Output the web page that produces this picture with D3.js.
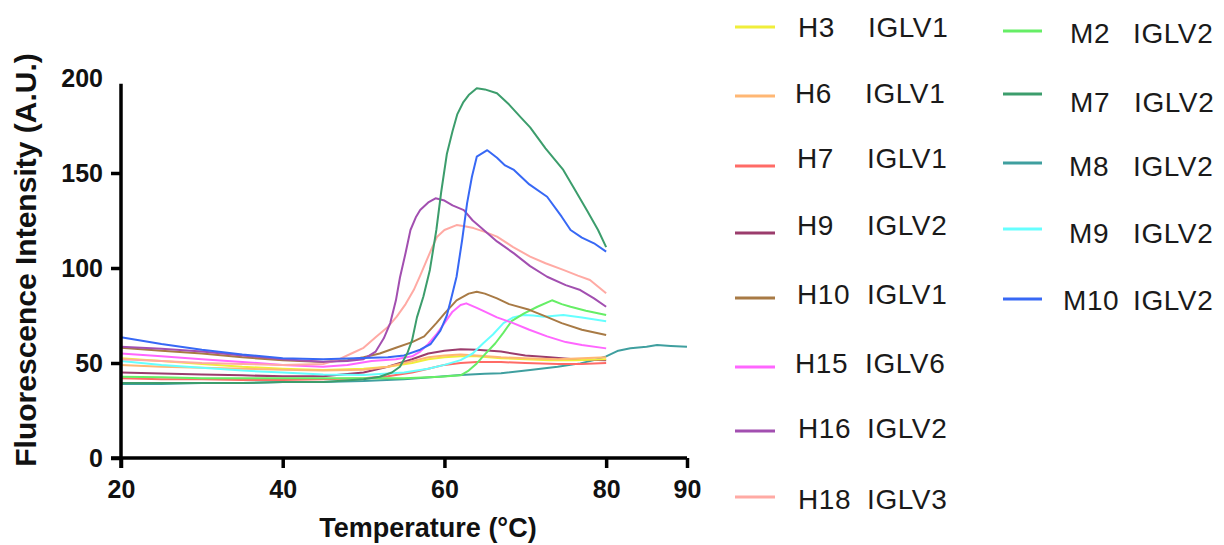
<!DOCTYPE html>
<html>
<head>
<meta charset="utf-8">
<script src="https://cdn.jsdelivr.net/npm/d3@7"></script>
<style>
  html, body { margin: 0; padding: 0; background: #fff; }
  svg { display: block; font-family: "Liberation Sans", Arial, Helvetica, sans-serif; }
</style>
</head>
<body>
<svg id="chart" width="1224" height="545"></svg>
<script>
// ---- data (temperature °C, fluorescence A.U.) ----
const xTicks = [20, 40, 60, 80, 90];
const yTicks = [0, 50, 100, 150, 200];

const seriesNames = ["H3", "H6", "H7", "H9", "H10", "H15", "H16", "H18", "M2", "M7", "M8", "M9", "M10"];
const seriesGenes = ["IGLV1", "IGLV1", "IGLV1", "IGLV2", "IGLV1", "IGLV6", "IGLV2", "IGLV3", "IGLV2", "IGLV2", "IGLV2", "IGLV2", "IGLV2"];
const seriesColors = ["#f0ee3a", "#ffb774", "#ff6b66", "#9b3c6c", "#a87a45", "#ff66ff", "#a24fb0", "#ffaaa4", "#66ee66", "#3c9d6c", "#3f9f9f", "#66ffff", "#3768f5"];

const h3 = [[20,52.5],[25,51],[30,49.5],[35,48],[40,47],[45,46.3],[50,47],[53,48],[56,50],[58,52],[60,53],[62,53.5],[64,53.5],[67,52.5],[70,52],[73,51.5],[76,51.5],[80,52]];
const h6 = [[20,49],[25,48],[30,47.5],[35,47],[40,46.5],[45,46],[50,46.5],[53,48],[56,51],[58,53],[60,54],[62,54.5],[64,54],[67,53],[70,52.5],[74,52],[77,52.5],[80,53]];
const h7 = [[20,42],[25,41.5],[30,41.5],[35,41],[40,41],[45,41.5],[50,42],[53,43],[56,45],[58,47],[60,49],[62,50],[64,50.5],[67,50.5],[70,50],[74,49.5],[77,49.5],[80,50]];
const h9 = [[20,45],[25,44.5],[30,44],[35,43.5],[40,43],[45,43],[50,45],[53,48],[56,52],[58,55],[60,56.5],[62,57.2],[64,57],[67,56],[70,54],[73,53],[76,52],[80,51.5]];
const h10 = [[20,58],[25,56.5],[30,55],[35,53],[40,51.5],[45,50.5],[48,51.5],[50,53],[52,55],[54,58],[56,61],[57.5,64],[59,71],[60,76],[61.5,83],[63,86.5],[64,87.5],[65,86.5],[66.5,84],[68,81],[70.5,78],[72.5,74.5],[74.5,71],[77,67.5],[80,64.7]];
const h15 = [[20,55],[25,53.5],[30,52],[35,50.5],[40,49],[45,48],[48,49],[51,51],[54,52],[56,53.5],[57,56],[58,60],[59,65],[60,71],[61,77],[62,80.5],[62.7,81.4],[64,79],[65,77],[66.5,74],[68.5,71],[70.5,67.5],[72.7,64],[75,61],[77,59.5],[80,57.7]];
const h16 = [[20,58.6],[25,57.5],[30,56],[35,54],[40,52],[45,50.7],[48,51],[50,52],[51.5,56],[52.5,63],[53.3,71],[54,83],[54.5,95],[55.2,108],[55.8,120],[56.5,127],[57,130.5],[58,134.5],[58.9,136.7],[60,135.5],[61,133],[62.4,130.5],[63.5,125],[64.4,121.7],[66.5,114],[68.6,107.7],[70.6,101],[72.7,95.4],[75,91],[76.8,88.4],[78.5,84],[80,79.6]];
const h18 = [[20,52],[25,51],[30,50],[35,49.5],[40,49],[45,49.5],[47,52],[48.5,55],[50,58],[51.6,64],[53,69],[54.1,74.4],[55.2,81],[56.2,88.4],[57,96],[57.8,104],[58.5,111],[59.1,116.5],[60,120],[61.5,122.6],[62.5,122],[63.6,121],[65,119],[66.5,116.5],[68.5,111],[70.6,106],[72.5,102.5],[74.7,99],[76.5,96],[78,93.7],[80,86.7]];
const m2 = [[20,42.8],[25,42.5],[30,42],[35,42],[40,42],[45,42],[50,42],[55,42],[59.5,42.8],[62,43.5],[63,46],[64,49.8],[65,54.5],[66.3,60.4],[67.3,66],[68.3,72],[69.8,76],[71.5,79.6],[73.3,83],[74.5,81],[75.6,79.6],[77.5,77.5],[80,75.3]];
const m7 = [[20,39.5],[25,39.5],[30,39.5],[35,39.5],[40,40],[45,40],[50,41.5],[52,42.8],[53.5,45],[54.5,48],[55.4,55],[56,62],[56.6,74],[57.4,85],[58.2,99],[59,120],[59.6,140],[60.3,160],[61,172],[61.6,181],[62.3,187],[63,191],[64,194.6],[65,194],[66.5,192],[68,186],[69.5,179],[70.6,174],[72.5,163],[74.7,151.6],[76.3,140],[77.6,130.5],[79,120],[80,111]];
const m8 = [[20,39],[25,39],[30,39.5],[35,39.5],[40,40],[45,40],[50,40.5],[55,41.5],[60,43],[62,43.7],[65,44.3],[67,44.6],[70.6,46.3],[74,48],[76.8,49.8],[78.5,51.5],[80,53.5],[81.5,56.5],[83,57.8],[85,58.6],[86.3,59.5],[88,59],[90,58.5]];
const m9 = [[20,51],[25,49],[30,47.5],[35,46],[40,45],[45,44],[50,43.7],[55,45],[58,47],[60,49],[62,51.5],[63.5,55],[64.8,60.4],[66,65],[67.3,71],[68.5,74],[69.8,75.3],[71,75],[72.3,74.4],[74.7,75.3],[77,74],[80,72]];
const m10 = [[20,63.5],[25,60],[30,57],[35,54.5],[40,52.5],[45,52],[50,52.6],[53,53],[55,54],[57,57],[58.3,60],[59.5,67],[60.3,75],[60.9,85],[61.5,95.4],[62.2,115],[62.8,134],[63.4,148],[64,158.6],[65.3,162],[66.5,158],[67.5,154],[68.6,151.6],[70.5,144],[72.7,137.5],[74.5,127],[75.6,120],[77,116],[78.5,113],[80,108.6]];

const seriesValues = [h3, h6, h7, h9, h10, h15, h16, h18, m2, m7, m8, m9, m10];

// ---- layout ----
const svg = d3.select("#chart");
const x = d3.scaleLinear().domain([20, 90]).range([121, 687]);
const y = d3.scaleLinear().domain([0, 200]).range([458, 78]);

// lines
const line = d3.line().x(d => x(d[0])).y(d => y(d[1]));
const drawOrder = [10, 2, 3, 0, 1, 11, 8, 5, 4, 7, 6, 12, 9];
svg.append("g").selectAll("path")
  .data(drawOrder)
  .join("path")
  .attr("d", i => line(seriesValues[i]))
  .attr("fill", "none")
  .attr("stroke", i => seriesColors[i])
  .attr("stroke-width", 2)
  .attr("stroke-linejoin", "round");

// axes
const axisStroke = 3.5;
const yAxis = svg.append("g").attr("transform", `translate(${x(20)},0)`)
  .call(d3.axisLeft(y).tickValues(yTicks).tickSize(10).tickPadding(8).tickFormat(d3.format("d")));
yAxis.select(".domain").remove();
yAxis.selectAll(".tick line").attr("stroke", "#000").attr("stroke-width", axisStroke)
  .attr("opacity", d => d === 200 ? 0 : 1);
yAxis.selectAll(".tick text")
  .attr("font-size", 25).attr("font-weight", "bold").attr("fill", "#111")
  .attr("font-family", "'Liberation Sans', Arial, sans-serif");

const xAxis = svg.append("g").attr("transform", `translate(0,${y(0)})`)
  .call(d3.axisBottom(x).tickValues(xTicks).tickSize(10).tickPadding(8).tickFormat(d3.format("d")));
xAxis.select(".domain").remove();
xAxis.selectAll(".tick line").attr("stroke", "#000").attr("stroke-width", axisStroke);
xAxis.selectAll(".tick text")
  .attr("font-size", 25).attr("font-weight", "bold").attr("fill", "#111")
  .attr("font-family", "'Liberation Sans', Arial, sans-serif")
  .attr("y", 40).attr("dy", 0);

// axis lines (crossing at origin, slightly extended like the original)
svg.append("line")
  .attr("x1", x(20)).attr("x2", x(20))
  .attr("y1", y(0) + 10).attr("y2", y(197))
  .attr("stroke", "#000").attr("stroke-width", axisStroke);
svg.append("line")
  .attr("x1", x(20) - 10).attr("x2", x(90))
  .attr("y1", y(0)).attr("y2", y(0))
  .attr("stroke", "#000").attr("stroke-width", axisStroke);

// axis titles
svg.append("text")
  .attr("x", 428).attr("y", 537)
  .attr("text-anchor", "middle")
  .attr("font-size", 27).attr("font-weight", "bold").attr("fill", "#111")
  .text("Temperature (°C)");

svg.append("text")
  .attr("transform", "translate(36,260) rotate(-90)")
  .attr("text-anchor", "middle")
  .attr("font-size", 30).attr("font-weight", "bold").attr("fill", "#111")
  .text("Fluorescence Intensity (A.U.)");

// legend
const legendLineY = [27, 96, 166, 233, 298, 367, 431, 497, 31, 94, 163, 229, 299];
const legendTextY = [37, 103, 168, 235, 304, 373, 438, 509, 43, 112, 176, 243, 310];
const legendNameX = [798, 795, 797, 797, 797, 795, 798, 798, 1070, 1070, 1069, 1069, 1063];
const legendGeneX = [868, 865, 867, 867, 867, 865, 867, 867, 1133, 1134, 1133, 1133, 1133];

const legend = svg.append("g");
seriesNames.forEach((name, i) => {
  const col2 = i >= 8;
  legend.append("line")
    .attr("x1", col2 ? 1003 : 735).attr("x2", col2 ? 1042 : 775)
    .attr("y1", legendLineY[i]).attr("y2", legendLineY[i])
    .attr("stroke", seriesColors[i]).attr("stroke-width", 3);
  const t = legend.append("text")
    .attr("y", legendTextY[i])
    .attr("font-size", 28).attr("letter-spacing", 0.6).attr("fill", "#1a1a1a");
  t.append("tspan").attr("x", legendNameX[i]).text(name);
  t.append("tspan").attr("x", legendGeneX[i]).text(seriesGenes[i]);
});
</script>
</body>
</html>
